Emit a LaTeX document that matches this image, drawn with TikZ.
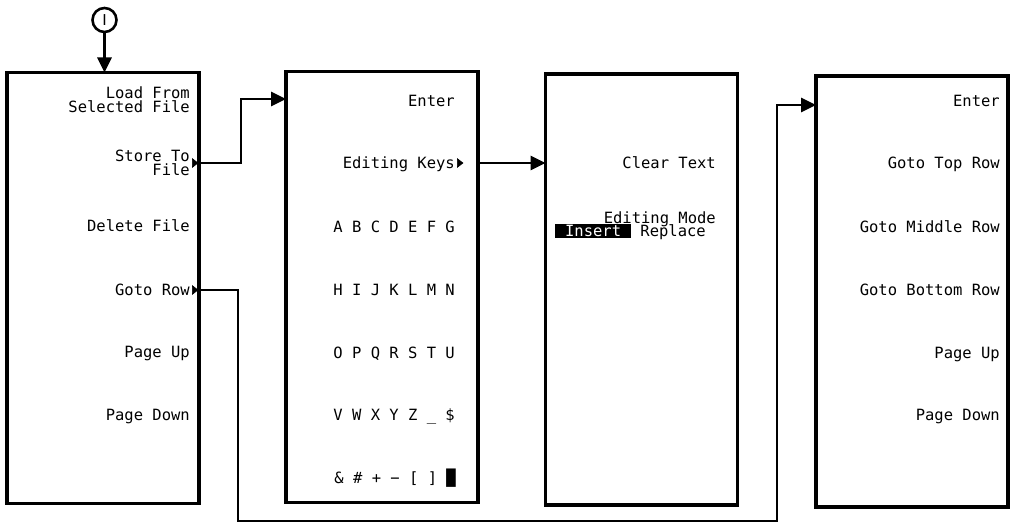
\documentclass[tikz,border=0pt]{standalone}
\usepackage{fontspec}
\setmainfont{DejaVu Sans Mono}
\newfontfamily\barfont{DejaVu Sans}
\usetikzlibrary{arrows.meta,positioning,shapes.geometric}

\begin{document}
\begin{tikzpicture}[
    x=1pt, y=-1pt,
    menu/.style={rectangle, draw, line width=3.2pt, minimum width=192pt, minimum height=431pt, outer sep=0pt},
    softkey/.style={anchor=east, inner sep=0pt, font=\fontsize{15.5}{14}\selectfont, text height=11.3pt, text depth=0pt},
    twoline/.style={anchor=east, inner sep=0pt, align=right, font=\fontsize{15.5}{14}\selectfont},
    more/.style={isosceles triangle, isosceles triangle stretches=true, fill, draw, line width=0.6pt, inner sep=0pt, minimum width=8.5pt, minimum height=5.5pt},
    wire/.style={line width=2.8pt, -{Triangle[length=15pt, width=14pt]}}
]
    \useasboundingbox (0,0) rectangle (1011,524);

    % menus
    \node[menu] (M1) at (103,288) {};
    \node[menu] (M2) at (382,287) {};
    \node[menu] (M3) at (641.5,289.5) {};
    \node[menu] (M4) at (912,291.5) {};

    % entry point
    \node[circle, draw, line width=2.6pt, minimum size=24pt, inner sep=0pt, font=\barfont\fontsize{15}{15}\selectfont] (S) at (104.5,20) {I};
    \draw[wire] (S) -- (S |- M1.north);

    % file menu
    \node[twoline] (A1) at (190,100) {Load From\\Selected File};
    \node[twoline] (A2) at (190,163) {Store To\\File};
    \node[softkey] (A3) at (190,226) {Delete File};
    \node[softkey] (A4) at (190,290) {Goto Row};
    \node[softkey] (A5) at (190,352) {Page Up};
    \node[softkey] (A6) at (190,415) {Page Down};
    \node[more] (T1) at (194.5,163) {};
    \node[more] (T3) at (194.5,290) {};

    % character entry
    \node[softkey] (B1) at (455,101) {Enter};
    \node[softkey] (B2) at (455,163) {Editing Keys};
    \node[softkey] (B3) at (455,227) {A B C D E F G};
    \node[softkey] (B4) at (455,290) {H I J K L M N};
    \node[softkey] (B5) at (455,353) {O P Q R S T U};
    \node[softkey] (B6) at (455,415) {V W X Y Z \_ \$};
    \node[softkey] (B7) at (456,478) {\& \# + − [ ] █};
    \node[more] (T2) at (459.5,163) {};

    % editing keys
    \node[softkey] (C1) at (716,163) {Clear Text};
    \node[softkey] (C2) at (716,217.5) {Editing Mode};
    \node[softkey] (C3) at (706,231) {Replace};
    \node[softkey, anchor=center, fill=black, text=white, inner xsep=10pt, inner ysep=1.5pt, left=9pt of C3] (C4) {Insert};

    % goto row
    \node[softkey] (D1) at (1000,101) {Enter};
    \node[softkey] (D2) at (1000,163) {Goto Top Row};
    \node[softkey] (D3) at (1000,227) {Goto Middle Row};
    \node[softkey] (D4) at (1000,290) {Goto Bottom Row};
    \node[softkey] (D5) at (1000,353) {Page Up};
    \node[softkey] (D6) at (1000,415) {Page Down};

    % links
    \coordinate (K1) at (241,99);
    \coordinate (K2) at (238,521);
    \coordinate (K3) at (777,105);
    \draw[wire] (T1.east) -| (K1) -- (M2.west |- K1);
    \draw[wire] (M2.east |- T2) -- (M3.west |- T2);
    \draw[wire] (T3.east) -| (K2) -| (K3) -- (M4.west |- K3);
\end{tikzpicture}
\end{document}
